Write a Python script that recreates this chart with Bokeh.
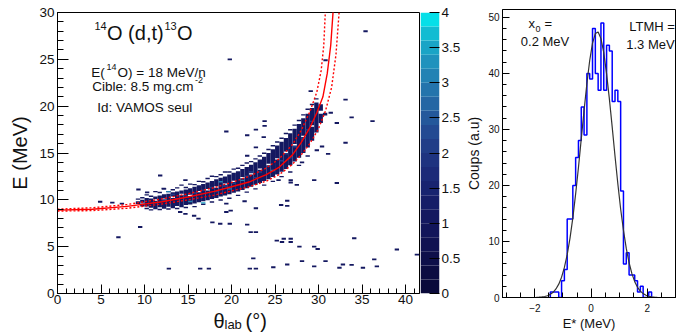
from bokeh.plotting import figure
from bokeh.models import (ColumnDataSource, LinearColorMapper, FixedTicker,
                          SingleIntervalTicker, Label, Range1d)
from bokeh.layouts import row, column
from bokeh.embed import file_html
from bokeh.resources import INLINE

FONT = "Liberation Sans"
TXT = "#111111"

# ---------------- left panel: kinematic lines ----------------
curve_theta = [0, 4, 8, 12, 15, 18, 20, 22, 24, 25.5, 27, 28, 29, 29.8, 30.5, 31, 31.4, 31.7]
curve_e = [8.9, 9.0, 9.3, 9.8, 10.3, 10.9, 11.4, 11.9, 12.7, 13.5, 14.8, 16.1, 17.7, 19.3, 21.0, 23.5, 26.5, 30.5]
upper_theta = [0, 4, 8, 12, 15, 18, 20, 22, 24, 25.5, 27, 28, 29, 29.8, 30.3, 30.6, 30.8]
upper_e = [9.0, 9.15, 9.5, 10.1, 10.65, 11.3, 11.85, 12.5, 13.4, 14.4, 15.9, 17.4, 19.4, 21.5, 23.8, 26.5, 30.5]
lower_theta = [0, 4, 8, 12, 15, 18, 20, 22, 24, 25.5, 27, 28, 29, 30, 30.8, 31.5, 32.0, 32.4]
lower_e = [8.8, 8.85, 9.1, 9.55, 10.0, 10.5, 10.95, 11.4, 12.0, 12.7, 13.8, 14.8, 16.0, 17.6, 19.5, 22.0, 25.5, 30.5]

# ---------------- left panel: 2D histogram (count = 1 blocks) ----------------
band_theta = [
    9.25, 9.25,
    9.75, 9.75, 9.75,
    10.25, 10.25, 10.25,
    10.75, 10.75, 10.75,
    11.25, 11.25, 11.25,
    11.75, 11.75, 11.75,
    12.25, 12.25, 12.25,
    12.75, 12.75, 12.75,
    13.25, 13.25, 13.25,
    13.75, 13.75, 13.75,
    14.25, 14.25, 14.25,
    14.75, 14.75, 14.75,
    15.25, 15.25, 15.25,
    15.75, 15.75, 15.75,
    16.25, 16.25, 16.25,
    16.75, 16.75, 16.75,
    17.25, 17.25, 17.25,
    17.75, 17.75, 17.75,
    18.25, 18.25, 18.25,
    18.75, 18.75, 18.75,
    19.25, 19.25, 19.25,
    19.75, 19.75, 19.75,
    20.25, 20.25, 20.25,
    20.75, 20.75, 20.75,
    21.25, 21.25, 21.25,
    21.75, 21.75, 21.75,
    22.25, 22.25, 22.25,
    22.75, 22.75, 22.75,
    23.25, 23.25, 23.25,
    23.75, 23.75, 23.75,
    24.25, 24.25, 24.25,
    24.75, 24.75, 24.75,
    25.25, 25.25, 25.25,
    25.75, 25.75, 25.75,
    26.25, 26.25, 26.25,
    26.75, 26.75, 26.75,
    27.25, 27.25, 27.25,
    27.75, 27.75, 27.75,
    28.25, 28.25, 28.25,
    28.75, 28.75, 28.75,
    29.25, 29.25, 29.25,
    29.75, 29.75,
    30.25, 30.25,
    30.75,
]
band_elo = [
    9.55, 10.0,
    9.3, 9.7, 10.15,
    9.0, 9.3, 10.45,
    8.85, 9.15, 10.3,
    9.0, 10.05, 10.8,
    8.9, 9.2, 10.7,
    9.05, 10.15, 11.1,
    8.95, 9.25, 10.8,
    9.1, 10.35, 11.0,
    9.0, 9.35, 11.2,
    9.2, 10.65, 11.5,
    9.1, 9.45, 11.25,
    9.5, 10.55, 11.6,
    9.2, 9.6, 11.55,
    9.75, 10.95, 11.9,
    9.45, 9.85, 11.85,
    9.95, 11.15, 12.2,
    9.7, 10.1, 12.45,
    10.2, 11.45, 12.4,
    9.9, 10.35, 12.6,
    10.45, 11.75, 12.9,
    10.1, 10.6, 12.9,
    10.75, 12.05, 13.2,
    10.4, 10.9, 13.3,
    11.05, 12.45, 13.6,
    10.75, 11.25, 13.85,
    11.4, 12.85, 14.0,
    11.1, 11.6, 14.3,
    11.8, 13.35, 14.6,
    11.5, 12.0, 14.9,
    12.2, 13.85, 15.3,
    11.9, 12.45, 15.7,
    12.7, 14.45, 16.1,
    12.4, 13.0, 16.5,
    13.3, 15.15, 17.0,
    12.9, 13.7, 17.4,
    14.1, 15.95, 17.9,
    13.6, 14.5, 18.4,
    15.0, 16.85, 19.0,
    14.6, 15.6, 19.6,
    16.3, 17.95, 20.1,
    17.2, 20.7,
    18.2, 19.5,
    19.0,
]
band_ehi = [
    9.85, 10.15,
    9.6, 10.0, 10.3,
    9.15, 10.2, 10.6,
    9.0, 10.15, 10.45,
    9.9, 10.35, 10.95,
    9.05, 10.45, 10.85,
    10.0, 10.6, 11.25,
    9.1, 10.65, 10.95,
    10.2, 10.8, 11.15,
    9.15, 10.9, 11.35,
    10.5, 11.0, 11.65,
    9.25, 11.1, 11.4,
    10.4, 11.25, 11.75,
    9.35, 11.4, 11.7,
    10.8, 11.55, 12.05,
    9.6, 11.7, 12.0,
    11.0, 11.85, 12.35,
    9.85, 12.0, 12.6,
    11.3, 12.2, 12.55,
    10.05, 12.35, 12.75,
    11.6, 12.5, 13.05,
    10.25, 12.7, 13.05,
    11.9, 12.9, 13.35,
    10.55, 13.05, 13.45,
    12.3, 13.3, 13.75,
    10.9, 13.5, 14.0,
    12.7, 13.75, 14.15,
    11.25, 14.0, 14.45,
    13.2, 14.3, 14.75,
    11.65, 14.6, 15.05,
    13.7, 15.0, 15.45,
    12.05, 15.4, 15.85,
    14.3, 15.8, 16.25,
    12.55, 16.2, 16.65,
    15.0, 16.6, 17.15,
    13.05, 17.1, 17.55,
    15.8, 17.6, 18.05,
    13.75, 18.1, 18.55,
    16.7, 18.7, 19.15,
    14.75, 19.2, 19.75,
    17.8, 19.8, 20.25,
    20.4, 20.85,
    19.2, 20.2,
    19.3,
]

# higher-count cells
hot_theta = [11.25, 12.25, 12.75, 13.25, 13.75, 14.75, 15.25, 15.75, 16.75, 16.75,
             17.75, 18.25, 18.75, 19.25, 19.75, 20.25, 21.25, 21.75, 22.25, 22.75,
             23.25, 24.25, 24.75, 25.75, 26.25, 26.75, 27.25, 28.25, 28.75, 29.25]
hot_e = [9.6, 9.9, 10.8, 10.5, 10.05, 10.35, 9.75, 10.65, 10.95, 9.6,
         11.25, 10.8, 11.85, 11.4, 11.1, 11.7, 12.0, 12.45, 12.9, 12.3,
         12.9, 13.5, 13.05, 14.1, 14.85, 14.4, 15.6, 16.5, 17.4, 18.3]
hot_n = [2, 2, 3, 2, 2, 2, 3, 2, 2, 3.5,
         2, 2, 3, 2, 3, 2, 3, 2, 2, 2,
         2, 2, 3, 2, 2, 2, 2, 2, 2, 2]

# isolated single counts
out_theta = [25.4, 26.8, 26.8, 27.5, 29.5, 32.1, 21.5, 25.7, 26.4, 26.4, 19.4, 19.4, 22.8,
             18.7, 19.8, 21.8, 22.2, 22.8, 25.2, 25.8, 26.0, 26.8, 26.8, 27.8, 29.5, 29.9,
             34.1, 39.0, 41.3, 22.5, 22.1, 22.8, 24.8, 26.4, 28.1, 29.5, 30.8, 32.4, 32.8,
             33.8, 35.1, 36.4, 36.7,
             11.8, 14.7, 12.2, 9.3, 10.3, 4.9, 6.3, 7.4, 9.5, 7.0, 12.8, 16.4, 17.4, 14.1,
             14.7, 15.7, 16.2, 17.8, 19.9,
             35.4, 19.8, 30.8, 29.1, 33.1, 33.8, 36.2, 32.1, 31.4, 19.4, 23.8, 23.8, 22.8,
             21.8, 23.7, 33.1, 30.4, 29.8, 31.1, 28.1, 22.8, 21.8]
out_e = [12.1, 12.1, 11.85, 11.6, 12.1, 11.8, 9.85, 9.45, 9.9, 9.35, 9.6, 8.7, 9.1,
         7.45, 7.45, 7.35, 6.55, 6.55, 5.65, 5.5, 5.85, 5.85, 5.5, 5.0, 5.0, 4.75,
         5.9, 4.7, 4.15, 3.75, 2.65, 2.65, 2.8, 3.1, 3.45, 2.9, 3.45, 2.75, 3.1,
         3.05, 2.75, 3.65, 2.9,
         12.6, 12.1, 11.2, 11.1, 10.8, 9.8, 9.7, 9.6, 7.1, 6.0, 2.65, 2.65, 2.65, 8.7,
         8.5, 8.3, 8.0, 7.6, 8.85,
         28.0, 25.0, 24.9, 21.6, 20.7, 18.8, 18.4, 18.2, 19.3, 17.3, 18.4, 17.9, 17.5,
         16.9, 16.7, 16.1, 15.7, 15.3, 14.9, 14.0, 15.6, 14.7]

cbar_ticks = [0, 0.5, 1, 1.5, 2, 2.5, 3, 3.5, 4]
cbar_labels = ["0", "0.5", "1", "1.5", "2", "2.5", "3", "3.5", "4"]

# ---------------- right panel ----------------
hist_center = [-1.4, -1.3, -1.2, -1.1, -1.0, -0.9, -0.8, -0.7, -0.6, -0.5, -0.4, -0.3,
               -0.2, -0.1, 0.0, 0.1, 0.2, 0.3, 0.4, 0.5, 0.6, 0.7, 0.8, 0.9,
               1.0, 1.1, 1.2, 1.3, 1.4, 1.5, 1.6, 1.7, 1.8, 1.9, 2.0, 2.1]
hist_counts = [1, 1, 1, 0, 3, 5, 14, 14, 20, 25, 28, 34,
               29, 40, 39, 48, 40, 37, 49, 37, 45, 44, 35, 37,
               35, 19, 6, 8, 4, 4, 3, 1, 2, 0, 0, 1]
fit_x = [-1.95, -1.85, -1.75, -1.65, -1.55, -1.45, -1.35, -1.25, -1.15, -1.05, -0.95,
         -0.85, -0.75, -0.65, -0.55, -0.45, -0.35, -0.25, -0.15, -0.05, 0.05, 0.15,
         0.25, 0.35, 0.45, 0.55, 0.65, 0.75, 0.85, 0.95, 1.05, 1.15, 1.25, 1.35,
         1.45, 1.55, 1.65, 1.75, 1.85, 1.95, 2.05, 2.15, 2.25, 2.35]
fit_y = [0.03, 0.05, 0.10, 0.18, 0.32, 0.56, 0.93, 1.52, 2.38, 3.63, 5.36,
         7.65, 10.6, 14.2, 18.5, 23.2, 28.3, 33.4, 38.2, 42.3, 45.4, 47.1,
         47.4, 46.2, 43.7, 39.9, 35.4, 30.4, 25.2, 20.3, 15.8, 12.0, 8.76, 6.2,
         4.26, 2.83, 1.82, 1.14, 0.69, 0.40, 0.23, 0.12, 0.07, 0.03]

palette = ["#0a0a3a", "#0c0c42", "#0e0f4a", "#101252", "#12155a", "#141860", "#161d68",
           "#182370", "#1b2a78", "#1e3380", "#213d88", "#234a92", "#24589b", "#2466a4",
           "#2374ac", "#2282b4", "#1f92bd", "#1aa4c6", "#12bcd2", "#05dfe8"]
CMIN, CMAX = 0, 4
mapper = LinearColorMapper(palette=palette, low=CMIN, high=CMAX)


def style_axes(p, font_px, ytick_in, ytick_minor, xtick_in, xtick_minor):
    for ax in (p.xaxis[0], p.yaxis[0]):
        ax.major_tick_out = 0
        ax.minor_tick_out = 0
        ax.axis_line_color = "black"
        ax.major_tick_line_color = "black"
        ax.minor_tick_line_color = "black"
        ax.major_label_text_font = FONT
        ax.major_label_text_font_size = font_px
        ax.major_label_text_color = TXT
        ax.axis_label_text_font = FONT
        ax.axis_label_text_font_style = "normal"
        ax.axis_label_text_color = TXT
    p.yaxis[0].major_tick_in = ytick_in
    p.yaxis[0].minor_tick_in = ytick_minor
    p.xaxis[0].major_tick_in = xtick_in
    p.xaxis[0].minor_tick_in = xtick_minor
    p.grid.visible = False
    p.outline_line_color = "black"
    p.outline_line_alpha = 1.0
    p.background_fill_color = "white"
    p.border_fill_color = "white"


def add_text(p, fx0, fy0, x, y, text, size, extra=2.5):
    # x, y: left end and baseline of the text, in page pixels
    px = float(size.replace("px", ""))
    lift = 0.26 * px + extra
    p.add_layout(Label(x=x - fx0, y=fy0 - y + lift, x_units="screen", y_units="screen",
                       text=text, text_font=FONT, text_font_size=size, text_color=TXT,
                       text_baseline="alphabetic", text_align="left"))


# ---------------- left figure ----------------
p1 = figure(width=420, height=310, x_range=Range1d(0, 41.6), y_range=Range1d(0, 30),
            output_backend="svg", toolbar_location=None,
            min_border_left=57, min_border_right=1, min_border_top=12, min_border_bottom=17)
style_axes(p1, "13.5px", 11, 6, 9, 5)
p1.xaxis.ticker = SingleIntervalTicker(interval=5, num_minor_ticks=5)
p1.yaxis.ticker = SingleIntervalTicker(interval=5, num_minor_ticks=5)
p1.yaxis.axis_label = "E (MeV)"
p1.yaxis.axis_label_text_font_size = "20px"
p1.yaxis.axis_label_standoff = 5
p1.yaxis.major_label_standoff = 3
p1.xaxis.major_label_standoff = 1

band_src = ColumnDataSource(dict(left=[t - 0.25 for t in band_theta],
                                 right=[t + 0.25 for t in band_theta],
                                 bottom=band_elo, top=band_ehi, n=[1] * len(band_theta)))
out_src = ColumnDataSource(dict(left=[t - 0.25 for t in out_theta],
                                right=[t + 0.25 for t in out_theta],
                                bottom=[e - 0.1 for e in out_e], top=[e + 0.1 for e in out_e],
                                n=[1] * len(out_theta)))
hot_src = ColumnDataSource(dict(left=[t - 0.25 for t in hot_theta],
                                right=[t + 0.25 for t in hot_theta],
                                bottom=hot_e, top=[e + 0.15 for e in hot_e], n=hot_n))
for src in (band_src, out_src, hot_src):
    p1.quad(left="left", right="right", bottom="bottom", top="top", source=src,
            fill_color={"field": "n", "transform": mapper}, line_color=None)

p1.line(upper_theta, upper_e, line_color="#ff0000", line_width=1.4, line_dash="2 2")
p1.line(lower_theta, lower_e, line_color="#ff0000", line_width=1.4, line_dash="2 2")
p1.line(curve_theta, curve_e, line_color="#ff0000", line_width=1.4)

L0X, L0Y = 57, 293
add_text(p1, L0X, L0Y, 94, 30.5, "14", "11px")
add_text(p1, L0X, L0Y, 106.5, 40, "O (d,t)", "20px")
add_text(p1, L0X, L0Y, 164, 30.5, "13", "11px")
add_text(p1, L0X, L0Y, 176.5, 40, "O", "20px")
add_text(p1, L0X, L0Y, 90.7, 78, "E(", "13.5px")
add_text(p1, L0X, L0Y, 106, 71, "14", "9px")
add_text(p1, L0X, L0Y, 117, 78, "O) = 18 MeV/n", "13.5px")
add_text(p1, L0X, L0Y, 91.7, 91.7, "Cible: 8.5 mg.cm", "13.5px")
add_text(p1, L0X, L0Y, 194.5, 84, "-2", "9px")
add_text(p1, L0X, L0Y, 96.7, 112.7, "Id: VAMOS seul", "13.5px")

# ---------------- colour scale ----------------
n_col = len(palette)
step = (CMAX - CMIN) / n_col
pcb = figure(width=43, height=310, x_range=Range1d(0, 1), y_range=Range1d(CMIN, CMAX),
             output_backend="svg", toolbar_location=None, x_axis_location=None,
             y_axis_location="right",
             min_border_left=0, min_border_right=21, min_border_top=12, min_border_bottom=17)
pcb.quad(left=[0] * n_col, right=[1] * n_col,
         bottom=[CMIN + i * step for i in range(n_col)],
         top=[CMIN + (i + 1) * step for i in range(n_col)],
         fill_color=palette, line_color=None)
ax = pcb.yaxis[0]
ax.ticker = FixedTicker(ticks=cbar_ticks)
ax.major_label_overrides = {t: l for t, l in zip(cbar_ticks, cbar_labels)}
ax.major_tick_in = 10
ax.major_tick_out = 0
ax.minor_tick_line_color = None
ax.axis_line_color = None
ax.major_tick_line_color = "black"
ax.major_label_standoff = 2
ax.major_label_text_font = FONT
ax.major_label_text_font_size = "13.5px"
ax.major_label_text_color = TXT
pcb.grid.visible = False
pcb.outline_line_color = None
pcb.background_fill_color = "white"
pcb.border_fill_color = "white"

# ---------------- x-axis title under left panel ----------------
ptx = figure(width=463, height=23, x_range=Range1d(0, 463), y_range=Range1d(0, 23),
             output_backend="svg", toolbar_location=None, x_axis_location=None,
             y_axis_location=None, min_border_left=0, min_border_right=0,
             min_border_top=0, min_border_bottom=0)
ptx.grid.visible = False
ptx.outline_line_color = None
ptx.background_fill_color = "white"
ptx.border_fill_color = "white"
add_text(ptx, 0, 333, 213, 326, "θ", "20px", extra=0)
add_text(ptx, 0, 333, 224, 327.5, "lab", "13px", extra=0)
add_text(ptx, 0, 333, 245, 326, "(°)", "20px", extra=0)

# ---------------- right figure ----------------
p2 = figure(width=213, height=333, x_range=Range1d(-3.15, 3.0), y_range=Range1d(0, 51.4),
            output_backend="svg", toolbar_location=None,
            min_border_left=36, min_border_right=1, min_border_top=9, min_border_bottom=36)
style_axes(p2, "10px", 7, 4, 9, 5)
p2.xaxis.ticker = SingleIntervalTicker(interval=2, num_minor_ticks=4)
p2.yaxis.ticker = SingleIntervalTicker(interval=10, num_minor_ticks=5)
p2.yaxis.axis_label = "Coups (a.u)"
p2.yaxis.axis_label_text_font_size = "14px"
p2.yaxis.axis_label_standoff = 3
p2.yaxis.major_label_standoff = 3
p2.xaxis.axis_label = "E* (MeV)"
p2.xaxis.axis_label_text_font_size = "13px"
p2.xaxis.axis_label_standoff = 1
p2.xaxis.major_label_standoff = 6

step_x = [hist_center[0] - 0.05]
step_y = [0]
for c, v in zip(hist_center, hist_counts):
    step_x += [c - 0.05, c + 0.05]
    step_y += [v, v]
step_x.append(hist_center[-1] + 0.05)
step_y.append(0)
p2.line(step_x, step_y, line_color="#0000ff", line_width=1.5)
p2.line(fit_x, fit_y, line_color="#333333", line_width=1.2)

R0X, R0Y = 499, 297
add_text(p2, R0X, R0Y, 525, 28.5, "x", "13px")
add_text(p2, R0X, R0Y, 532, 33, "0", "9px")
add_text(p2, R0X, R0Y, 541, 28.5, "=", "13px")
add_text(p2, R0X, R0Y, 517.3, 46.7, "0.2 MeV", "13px")
add_text(p2, R0X, R0Y, 625.7, 32.3, "LTMH =", "13px")
add_text(p2, R0X, R0Y, 622.7, 50, "1.3 MeV", "13px")

left = column(row(p1, pcb), ptx)
layout = row(left, p2)
open("out.html", "w").write(file_html(layout, INLINE))
